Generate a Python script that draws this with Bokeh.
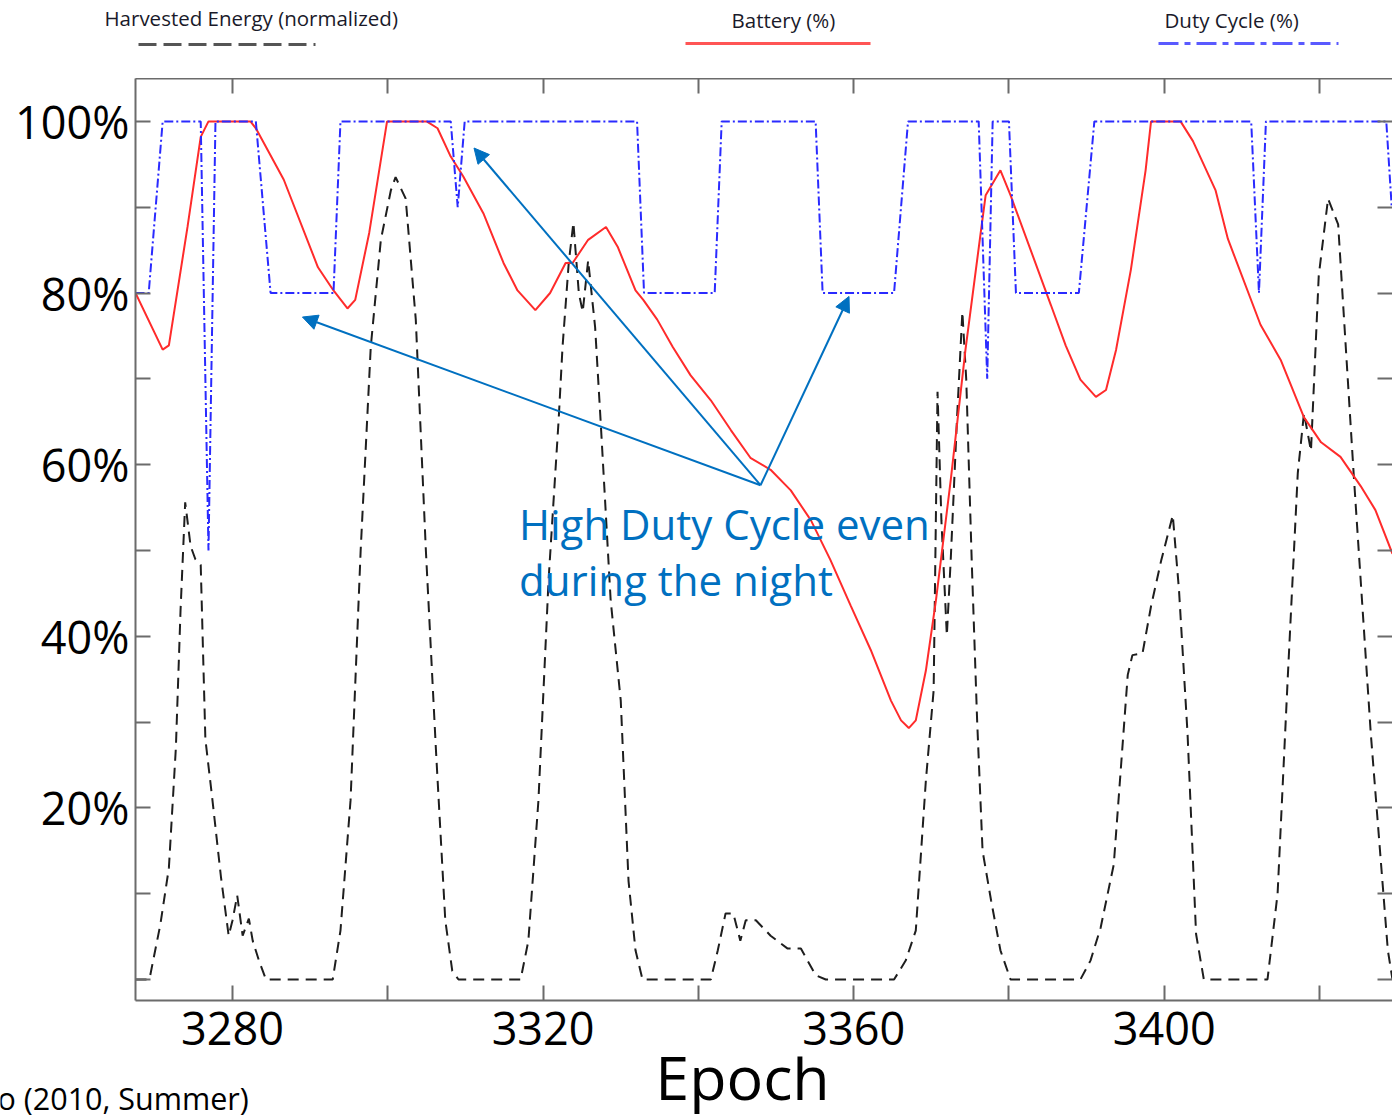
from bokeh.plotting import figure
from bokeh.models import (Range1d, LinearAxis, FixedTicker, Arrow, NormalHead)
from bokeh.layouts import column
from bokeh.core.properties import value
from bokeh.embed import file_html
from bokeh.resources import INLINE

# ---------------- data ----------------
SERIES = ["Harvested Energy (normalized)", "Battery (%)", "Duty Cycle (%)"]

HARV_X = [3267.5, 3269.2, 3269.4, 3270.7, 3271.8, 3272.7, 3273.3, 3273.9, 3274.6, 3275.2,
          3275.9, 3276.5, 3277.4, 3278.5, 3279.5, 3280.0, 3280.6, 3281.3, 3282.1, 3282.6,
          3283.4, 3284.3, 3292.9, 3293.9, 3295.2, 3296.5, 3297.8, 3299.1, 3300.4, 3301.0,
          3302.3, 3303.6, 3304.9, 3306.2, 3307.4, 3308.3, 3309.1, 3317.1, 3318.1, 3319.4,
          3320.7, 3322.0, 3322.5, 3323.3, 3323.9, 3324.6, 3325.1, 3325.8, 3326.7, 3327.4,
          3328.7, 3330.0, 3331.0, 3331.9, 3332.8, 3341.6, 3342.5, 3343.5, 3344.5, 3345.4,
          3346.1, 3347.4, 3349.3, 3351.5, 3353.2, 3355.1, 3356.4, 3365.2, 3366.7, 3368.0,
          3369.3, 3370.3, 3370.8, 3371.3, 3372.0, 3372.5, 3373.3, 3374.0, 3374.5, 3375.2,
          3375.9, 3376.6, 3377.7, 3378.9, 3380.2, 3389.2, 3390.5, 3391.8, 3393.5, 3395.3,
          3395.9, 3397.2, 3398.3, 3399.6, 3401.1, 3401.9, 3403.0, 3404.1, 3405.1, 3413.3,
          3414.6, 3415.9, 3417.2, 3418.0, 3418.9, 3419.9, 3421.1, 3422.4, 3424.4, 3426.6,
          3428.8, 3429.4]
HARV_Y = [0.0, 0.0, 0.5, 6.4, 13.0, 27.0, 43.0, 55.6, 50.5, 49.0,
          48.3, 28.0, 21.0, 12.0, 5.1, 6.9, 9.8, 5.1, 7.1, 4.5,
          2.2, 0.0, 0.0, 5.7, 20.9, 50.0, 73.7, 86.2, 92.0, 93.5,
          91.0, 76.9, 50.0, 26.7, 6.9, 1.0, 0.0, 0.0, 4.5, 20.9,
          46.5, 65.2, 73.7, 83.5, 88.2, 80.0, 77.8, 83.8, 76.0, 65.2,
          44.2, 32.5, 11.5, 3.4, 0.0, 0.0, 3.4, 7.7, 7.7, 4.5,
          6.9, 6.9, 5.1, 3.6, 3.6, 0.5, 0.0, 0.0, 2.2, 5.7,
          23.2, 33.7, 68.5, 53.5, 40.1, 48.9, 65.2, 77.8, 69.9, 48.9,
          30.2, 15.0, 9.2, 3.4, 0.0, 0.0, 2.2, 6.0, 13.4, 35.5,
          37.8, 38.0, 43.5, 48.8, 54.1, 45.4, 28.7, 5.3, 0.0, 0.0,
          10.0, 35.0, 59.0, 66.0, 61.6, 82.0, 91.0, 88.0, 58.9, 28.7,
          3.4, 0.0]

BATT_X = [3267.5, 3271.0, 3271.8, 3274.2, 3275.9, 3276.9, 3282.3, 3283.0, 3286.6, 3291.0,
          3293.0, 3294.8, 3295.8, 3297.6, 3299.9, 3305.0, 3306.4, 3308.1, 3309.7, 3312.3,
          3314.9, 3316.7, 3319.0, 3320.9, 3322.9, 3323.8, 3325.8, 3328.1, 3329.6, 3331.9,
          3332.9, 3334.7, 3336.7, 3339.0, 3341.6, 3344.2, 3346.7, 3349.3, 3351.9, 3354.5,
          3357.0, 3359.6, 3362.2, 3364.8, 3366.1, 3367.1, 3368.0, 3369.3, 3370.6, 3372.5,
          3374.4, 3376.4, 3377.0, 3378.9, 3380.2, 3382.8, 3385.4, 3387.3, 3389.2, 3391.2,
          3392.5, 3393.8, 3395.7, 3397.6, 3398.3, 3402.1, 3403.7, 3406.6, 3408.2, 3412.4,
          3415.0, 3418.0, 3420.2, 3422.7, 3425.3, 3427.2, 3429.4]
BATT_Y = [80.0, 73.4, 73.9, 87.7, 98.2, 100.0, 100.0, 99.2, 93.2, 83.0,
          80.3, 78.2, 79.2, 87.0, 100.0, 100.0, 99.2, 95.9, 93.6, 89.3,
          83.5, 80.3, 78.0, 80.0, 83.5, 83.5, 86.2, 87.7, 85.4, 80.3,
          79.2, 76.9, 73.7, 70.4, 67.5, 64.0, 60.8, 59.4, 57.0, 53.5,
          48.9, 43.6, 38.4, 32.5, 30.2, 29.3, 30.2, 36.0, 44.2, 58.2,
          73.4, 87.3, 91.4, 94.3, 91.4, 85.0, 78.6, 73.9, 69.9, 67.9,
          68.7, 73.4, 82.7, 94.3, 100.0, 100.0, 97.7, 92.0, 86.3, 76.3,
          72.2, 65.5, 62.6, 60.9, 57.5, 54.7, 49.6]

DUTY_X = [3267.5, 3269.2, 3271.0, 3275.9, 3276.9, 3277.8, 3283.0, 3284.9, 3293.0, 3293.9,
          3308.1, 3309.0, 3309.9, 3332.1, 3333.0, 3342.1, 3343.0, 3355.1, 3356.0, 3365.2,
          3367.0, 3376.1, 3377.2, 3377.9, 3380.0, 3380.9, 3389.0, 3391.0, 3411.2, 3412.2,
          3413.1, 3428.6, 3429.3]
DUTY_Y = [80, 80, 100, 100, 50, 100, 100, 80, 80, 100,
          100, 90, 100, 100, 80, 80, 100, 100, 80, 80,
          100, 100, 70, 100, 100, 80, 80, 100, 100, 80,
          100, 100, 90]

X_MAJOR = [3280, 3320, 3360, 3400]
X_MINOR = [3300, 3340, 3380, 3420]
Y_MAJOR = [20, 40, 60, 80, 100]
Y_MINOR = [0, 10, 30, 50, 70, 90]
Y_LABELS = {20: "20%", 40: "40%", 60: "60%", 80: "80%", 100: "100%"}

X_TITLE = "Epoch"
NOTE_TEXT = ["High Duty Cycle even", "during the night"]
NOTE_X = 3316.9
NOTE_Y = [53.1, 46.6]
ARROW_FROM = (3348.0, 57.6)
ARROW_TO_X = [3289.0, 3311.1, 3359.4]
ARROW_TO_Y = [77.2, 96.9, 79.6]

FOOTNOTE = "o (2010, Summer)"

FONT = "Open Sans"
AX = "#6b6b6b"
C_HARV = "#1e1e1e"
C_BATT = "#ff2b2b"
C_DUTY = "#2a2aff"
C_NOTE = "#0070C0"


def strip(height):
    s = figure(width=1392, height=height, x_range=Range1d(0, 1392),
               y_range=Range1d(height, 0), output_backend="svg", toolbar_location=None,
               x_axis_location=None, y_axis_location=None,
               min_border_left=0, min_border_right=0, min_border_top=0, min_border_bottom=0)
    s.outline_line_color = None
    s.grid.visible = False
    try:
        s.frame_align = False
    except Exception:
        pass
    return s


# ---------------- legend strip ----------------
top = strip(78)
top.text(x=[104, 731, 1164], y=[17, 19.5, 19.5], text=SERIES,
         text_font=value(FONT), text_font_size="20.5px", text_color="#1a1a2a",
         text_baseline="alphabetic")
top.line([138, 315], [44, 44], line_color="#555555", line_width=3, line_dash="18 7")
top.line([685, 870], [43, 43], line_color="#ff5555", line_width=3)
top.line([1158, 1338], [43, 43], line_color="#5a5aff", line_width=3, line_dash="20 6 6 6")

# ---------------- main chart ----------------
MAIN_H = 978
p = figure(width=1392, height=MAIN_H,
           x_range=Range1d(3267.5, 3429.4), y_range=Range1d(-2.45, 105.0),
           output_backend="svg", toolbar_location=None,
           min_border_left=135, min_border_right=0, min_border_top=0,
           min_border_bottom=56)
p.outline_line_color = None
p.grid.visible = False

p.xaxis.ticker = FixedTicker(ticks=X_MAJOR, minor_ticks=X_MINOR)
p.yaxis.ticker = FixedTicker(ticks=Y_MAJOR, minor_ticks=Y_MINOR)
p.yaxis.major_label_overrides = Y_LABELS

for ax in (p.xaxis[0], p.yaxis[0]):
    ax.axis_line_color = AX
    ax.axis_line_width = 2
    ax.major_tick_line_color = AX
    ax.major_tick_line_width = 2
    ax.major_tick_in = 15
    ax.major_tick_out = 0
    ax.minor_tick_line_color = AX
    ax.minor_tick_line_width = 2
    ax.minor_tick_in = 15
    ax.minor_tick_out = 0
    ax.major_label_text_font = FONT
    ax.major_label_text_font_size = "45px"
    ax.major_label_text_color = "black"

p.xaxis.major_label_standoff = 11
p.yaxis.major_label_standoff = 6

top_ax = LinearAxis(ticker=FixedTicker(ticks=[], minor_ticks=X_MAJOR + X_MINOR),
                    axis_line_color=AX, axis_line_width=2,
                    minor_tick_line_color=AX, minor_tick_line_width=2,
                    minor_tick_in=15, minor_tick_out=0, major_tick_line_color=None)
right_ax = LinearAxis(ticker=FixedTicker(ticks=[], minor_ticks=Y_MAJOR + Y_MINOR),
                      axis_line_color=None,
                      minor_tick_line_color=AX, minor_tick_line_width=2,
                      minor_tick_in=15, minor_tick_out=0, major_tick_line_color=None)
p.add_layout(top_ax, "above")
p.add_layout(right_ax, "right")

p.line(HARV_X, HARV_Y, line_color=C_HARV, line_width=2, line_dash="11 7")
p.line(BATT_X, BATT_Y, line_color=C_BATT, line_width=2)
p.line(DUTY_X, DUTY_Y, line_color=C_DUTY, line_width=2, line_dash="9 3 2 3")

for tx, ty in zip(ARROW_TO_X, ARROW_TO_Y):
    p.add_layout(Arrow(end=NormalHead(size=15, fill_color=C_NOTE, line_color=C_NOTE),
                       x_start=ARROW_FROM[0], y_start=ARROW_FROM[1], x_end=tx, y_end=ty,
                       line_color=C_NOTE, line_width=2))

p.text(x=[NOTE_X, NOTE_X], y=NOTE_Y, text=NOTE_TEXT, text_font=value(FONT),
       text_font_size="42px", text_color=C_NOTE, text_baseline="alphabetic")

# ---------------- bottom strip: axis title and source note ----------------
BOT_H = 1115 - 78 - MAIN_H
bot = strip(BOT_H)
bot.text(x=[742], y=[20], text=[X_TITLE], text_font=value(FONT), text_font_size="61px",
         text_color="black", text_align="center", text_baseline="alphabetic")
bot.text(x=[-3], y=[41], text=[FOOTNOTE], text_font=value(FONT), text_font_size="30.5px",
         text_color="black", text_baseline="alphabetic")

layout = column(top, p, bot, spacing=0)
open("out.html", "w").write(file_html(layout, INLINE))
